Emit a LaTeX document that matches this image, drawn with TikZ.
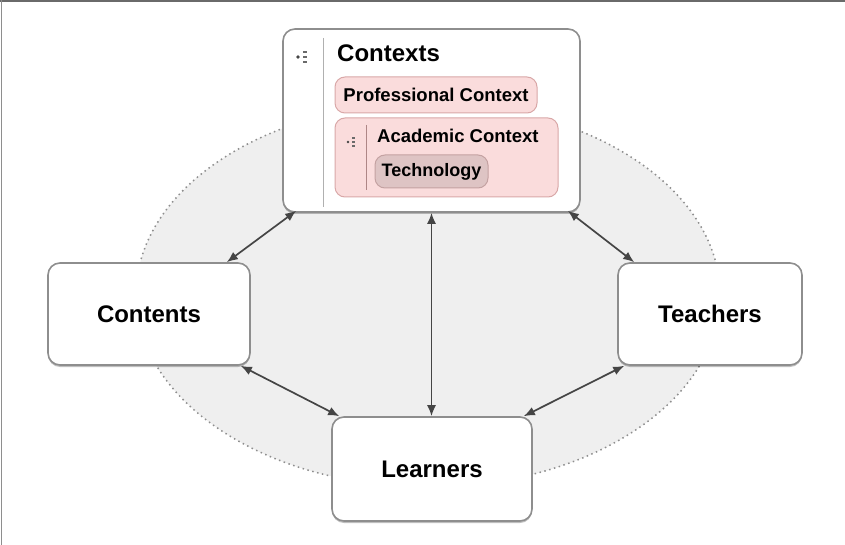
\documentclass[tikz,border=0pt]{standalone}
\usepackage{fontspec}
\setmainfont{Liberation Sans}
\usetikzlibrary{arrows.meta, calc, shadows}
\definecolor{boxline}{HTML}{8E8E8E}
\definecolor{ringfill}{HTML}{EFEFEF}
\definecolor{pinkfill}{HTML}{FADCDC}
\definecolor{pinkline}{HTML}{D9A8A8}
\definecolor{techfill}{HTML}{DEC4C4}
\definecolor{techline}{HTML}{C4A2A2}
\definecolor{arrowgray}{HTML}{454545}
\newcommand{\figArrow}{{Latex[length=11pt,width=9pt]}}

\tikzset{
	mainbox/.style={draw=boxline, line width=1.6pt, fill=white, rounded corners=12pt,
		drop shadow={shadow xshift=0pt, shadow yshift=-2pt, opacity=0.25, fill=black},
		font=\fontsize{24}{28}\selectfont\bfseries, inner sep=0pt},
	subbox/.style={draw=pinkline, line width=1pt, fill=pinkfill, rounded corners=10pt,
		font=\fontsize{18.5}{22}\selectfont\bfseries, inner sep=0pt},
	conn/.style={draw=arrowgray, line width=1.7pt, \figArrow-\figArrow},
	outlinemark/.pic={
		\fill[arrowgray] (0,0) circle (1.8);
		\foreach \dy in {-5,0,5} {
			\fill[arrowgray!80] (4.5,\dy-1.4) rectangle (8.5,\dy+1.4);
		}
	}
}

\begin{document}
\begin{tikzpicture}[x=1pt, y=-1pt]
	\useasboundingbox (0,0) rectangle (845,545);

	% frame edges
	\draw[arrowgray!80, line width=2pt] (0,1) -- (845,1);
	\draw[boxline, line width=1pt] (1,0) -- (1,545);

	% background ring
	\draw[fill=ringfill, draw=boxline, line width=1.5pt, dash pattern=on 1.5pt off 3.5pt] (428,295) ellipse (292 and 192);

	% outer boxes
	\node[mainbox, minimum width=297pt, minimum height=183pt] (contexts) at (431.5,120.5) {};
	\node[mainbox, minimum width=202pt, minimum height=102pt] (contents) at (149,314) {Contents};
	\node[mainbox, minimum width=184pt, minimum height=102pt] (teachers) at (710,314) {Teachers};
	\node[mainbox, minimum width=200pt, minimum height=104pt] (learners) at (432,469) {Learners};

	% contexts outline
	\pic at (298,57) {outlinemark};
	\draw[boxline!70, line width=0.8pt] (323,38) -- (323,207);
	\node[anchor=base west, font=\fontsize{24}{28}\selectfont\bfseries, inner sep=0pt] (ctxtitle) at (337,62) {Contexts};

	\node[subbox, minimum width=202pt, minimum height=36pt] (professional) at (436,95) {Professional Context};
	\node[subbox, minimum width=223pt, minimum height=79pt] (academic) at (446.5,157.5) {};
	\pic[scale=0.8] at (348,142) {outlinemark};
	\draw[pinkline!80!black, line width=0.6pt] (366,125) -- (366,190);
	\node[anchor=base west, font=\fontsize{18.5}{22}\selectfont\bfseries, inner sep=0pt] (acadtitle) at (377,143) {Academic Context};
	\node[subbox, draw=techline, fill=techfill, minimum width=113pt, minimum height=33pt, font=\fontsize{18}{22}\selectfont\bfseries] (technology) at (431.5,171.5) {Technology};

	% connectors
	\draw[conn] ($(contexts.south west)+(14,-2)$) -- ($(contents.north east)+(-24,0)$);
	\draw[conn] ($(contexts.south east)+(-13,-2)$) -- ($(teachers.north west)+(17,0)$);
	\draw[conn] (contexts.south) -- (contexts.south |- learners.north);
	\draw[conn] ($(contents.south east)+(-10,0)$) -- ($(learners.north west)+(8,0)$);
	\draw[conn] ($(teachers.south west)+(7,0)$) -- ($(learners.north east)+(-9,0)$);

\end{tikzpicture}
\end{document}
